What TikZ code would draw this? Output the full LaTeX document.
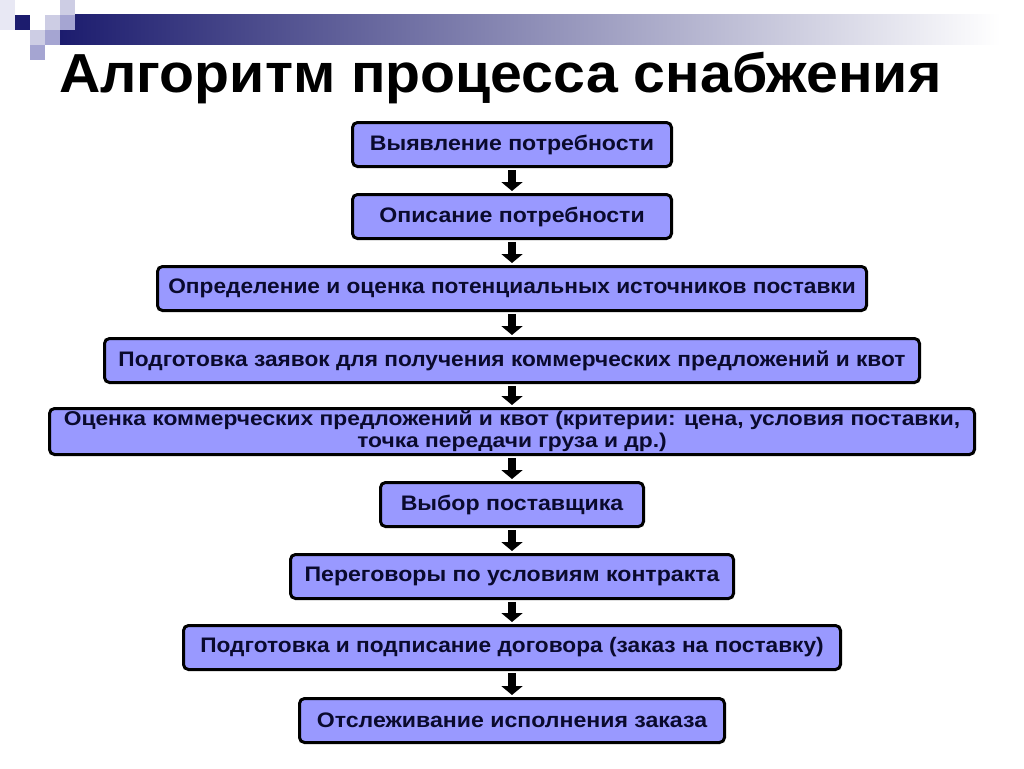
\documentclass[tikz,border=0pt]{standalone}
\usepackage{fontspec}
\setmainfont{Liberation Sans}
\newfontfamily\boxfont[FakeStretch=1.1]{Liberation Sans}
\newfontfamily\longfont[FakeStretch=1.08]{Liberation Sans}
\newfontfamily\widefont[FakeStretch=1.14]{Liberation Sans}
\newfontfamily\titlefont[FakeStretch=1.04]{Liberation Sans}
\usetikzlibrary{arrows.meta}
\definecolor{boxfill}{RGB}{153,153,255}
\definecolor{boxtext}{RGB}{10,10,45}
\definecolor{navybar}{RGB}{28,28,110}
\definecolor{lav1}{RGB}{205,205,228}
\definecolor{lav2}{RGB}{165,165,210}
\definecolor{lav0}{RGB}{232,232,244}
\tikzset{
  stepbox/.style={draw=black, line width=3pt, fill=boxfill, rounded corners=5pt,
    minimum height=44pt, inner sep=0pt, text=boxtext, align=center,
    font=\fontsize{21}{22}\boxfont\bfseries},
  longbox/.style={stepbox, font=\fontsize{21}{22}\longfont\bfseries},
  flowarrow/.style={line width=8pt, draw=black, -{Triangle[width=21pt,length=9pt]},
    shorten <=2pt, shorten >=2pt}
}
\begin{document}
\begin{tikzpicture}[x=1pt,y=-1pt]
\useasboundingbox (0,0) rectangle (1024,768);
\fill[white] (0,0) rectangle (1024,768);
% header decoration
\shade[left color=navybar, right color=white] (60,15) rectangle (1000,45);
\fill[lav0] (0,0) rectangle (15,30);
\fill[navybar] (15,15) rectangle (30,30);
\fill[lav1] (60,0) rectangle (75,15);
\fill[lav1] (45,15) rectangle (60,30);
\fill[lav2] (60,15) rectangle (75,30);
\fill[lav1] (30,30) rectangle (45,45);
\fill[lav2] (45,30) rectangle (60,45);
\fill[lav2] (30,45) rectangle (45,60);
% title
\node[anchor=base west, inner sep=0pt, font=\fontsize{55}{60}\titlefont\bfseries] (title) at (59,92) {Алгоритм процесса снабжения};
% boxes
\node[stepbox, minimum width=319pt] (b1) at (512,144.5) {Выявление потребности};
\node[stepbox, minimum width=319pt] (b2) at (512,216.5) {Описание потребности};
\node[longbox, minimum width=709pt] (b3) at (512,288.5) {Определение и оценка потенциальных источников поставки};
\node[longbox, minimum width=815pt] (b4) at (512,360.5) {Подготовка заявок для получения коммерческих предложений и квот};
\node[stepbox, minimum width=925pt, minimum height=46pt, font=\fontsize{20}{22}\widefont\bfseries] (b5) at (512,431.5) {Оценка коммерческих предложений и квот (критерии: цена, условия поставки,\\точка передачи груза и др.)};
\node[stepbox, minimum width=263pt] (b6) at (512,504.5) {Выбор поставщика};
\node[stepbox, minimum width=443pt] (b7) at (512,576.5) {Переговоры по условиям контракта};
\node[longbox, minimum width=657pt] (b8) at (512,647.5) {Подготовка и подписание договора (заказ на поставку)};
\node[stepbox, minimum width=425pt] (b9) at (512,720.5) {Отслеживание исполнения заказа};
% arrows
\foreach \a/\b in {b1/b2,b2/b3,b3/b4,b4/b5,b5/b6,b6/b7,b7/b8,b8/b9}
  \draw[flowarrow] (\a.south) -- (\b.north);
\end{tikzpicture}
\end{document}
